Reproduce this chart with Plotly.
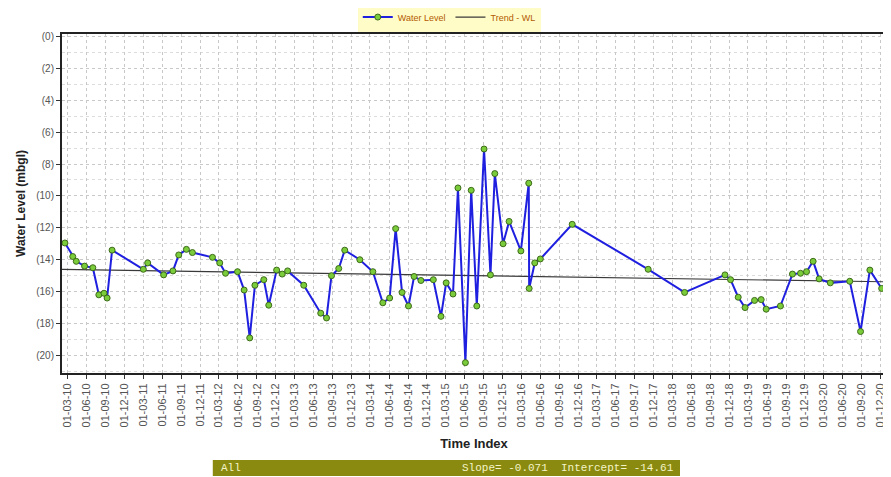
import plotly.graph_objects as go
from datetime import date

# ---- data (water level, metres below ground, negative) ----
dates = [
    "2010-02-16", "2010-03-26", "2010-04-12", "2010-05-22", "2010-07-01", "2010-07-30",
    "2010-08-24", "2010-09-08", "2010-10-02", "2011-03-02", "2011-03-23", "2011-06-08",
    "2011-07-23", "2011-08-20", "2011-09-26", "2011-10-25", "2012-01-30", "2012-03-05",
    "2012-04-02", "2012-05-30", "2012-07-01", "2012-07-28", "2012-08-22", "2012-10-04",
    "2012-10-28", "2012-12-05", "2013-01-01", "2013-01-27", "2013-04-15", "2013-07-06",
    "2013-08-03", "2013-08-27", "2013-10-01", "2013-10-30", "2014-01-11", "2014-03-15",
    "2014-05-02", "2014-06-04", "2014-07-03", "2014-08-03", "2014-09-03", "2014-09-30",
    "2014-11-02", "2015-01-01", "2015-02-07", "2015-03-04", "2015-04-06", "2015-04-30",
    "2015-06-05", "2015-07-03", "2015-07-30", "2015-09-03", "2015-10-04", "2015-10-25",
    "2015-12-04", "2016-01-02", "2016-02-28", "2016-04-06", "2016-04-08", "2016-05-05",
    "2016-06-01", "2016-11-02", "2017-11-04", "2018-04-29", "2018-11-10", "2018-12-07",
    "2019-01-13", "2019-02-15", "2019-04-02", "2019-05-04", "2019-05-28", "2019-08-05",
    "2019-10-02", "2019-11-10", "2019-12-09", "2020-01-10", "2020-02-08", "2020-04-02",
    "2020-07-05", "2020-08-26", "2020-10-10", "2020-12-06",
]
levels = [
    -12.95, -13.8, -14.1, -14.4, -14.5, -16.2,
    -16.1, -16.4, -13.4, -14.6, -14.2, -14.95,
    -14.7, -13.7, -13.35, -13.55, -13.85, -14.2,
    -14.85, -14.75, -15.9, -18.9, -15.6, -15.25,
    -16.85, -14.65, -14.9, -14.7, -15.6, -17.35,
    -17.65, -15.0, -14.55, -13.4, -14.0, -14.75,
    -16.7, -16.4, -12.05, -16.05, -16.9, -15.05,
    -15.3, -15.25, -17.55, -15.45, -16.15, -9.5,
    -20.45, -9.65, -16.9, -7.06, -14.95, -8.6,
    -13.0, -11.6, -13.45, -9.2, -15.8, -14.2,
    -13.95, -11.78, -14.6, -16.05, -14.95, -15.25,
    -16.35, -17.0, -16.55, -16.5, -17.1, -16.9,
    -14.9, -14.85, -14.75, -14.1, -15.2, -15.45,
    -15.35, -18.5, -14.65, -15.8,
]

slope = -0.071        # per year
intercept = -14.61

y_tick_vals = [0, -2, -4, -6, -8, -10, -12, -14, -16, -18, -20]
y_tick_text = ["(0)", "(2)", "(4)", "(6)", "(8)", "(10)", "(12)", "(14)", "(16)", "(18)", "(20)"]

x_start = "2010-02-02"
x_end = "2020-12-27"

tick_dates = [f"{y}-{m:02d}-01" for y in range(2010, 2021) for m in (3, 6, 9, 12)]
tick_text = [f"01-{m:02d}-{str(y)[2:]}" for y in range(2010, 2021) for m in (3, 6, 9, 12)]

# trend line from slope / intercept across the axis span
d0 = date.fromisoformat(x_start)
d1 = date.fromisoformat(x_end)
trend_x = [x_start, x_end]
trend_y = [intercept, intercept + slope * (d1 - d0).days / 365.25]

fig = go.Figure()
fig.add_trace(go.Scatter(
    x=trend_x, y=trend_y, mode="lines", name="Trend - WL",
    line=dict(color="#3a3a3a", width=1.2),
))
fig.add_trace(go.Scatter(
    x=dates, y=levels, mode="lines+markers", name="Water Level",
    line=dict(color="#1f1fe0", width=2),
    marker=dict(symbol="circle", size=6, color="#7acc3a", line=dict(color="#3d6b1a", width=1)),
))

fig.update_layout(
    width=883, height=469,
    margin=dict(l=54, r=5, t=26, b=104, autoexpand=False),
    paper_bgcolor="white", plot_bgcolor="white",
    font=dict(family="Liberation Sans, Arial, sans-serif", size=10, color="#444"),
    showlegend=True,
    legend=dict(
        orientation="h", x=0.47, xanchor="center", y=1.05, yanchor="middle",
        bgcolor="#fffcc8", font=dict(size=9, color="#b35a00"),
        itemwidth=30, traceorder="reversed",
        tracegroupgap=0,
    ),
)

fig.update_xaxes(
    type="date", range=[x_start, x_end], automargin=False,
    tickmode="array", tickvals=tick_dates, ticktext=tick_text,
    tickangle=-90, tickfont=dict(size=11, color="#555"),
    ticks="outside", ticklen=4, tickcolor="#333",
    showgrid=True, gridcolor="#c8c8c8", griddash="dot", gridwidth=1,
    showline=True, linecolor="#222", linewidth=2, mirror=True,
    zeroline=False,
    title=dict(text="<b>Time Index</b>", font=dict(size=13, color="#222"), standoff=12),
)
fig.update_yaxes(
    range=[-21.1, 0.15], automargin=False,
    tickmode="array", tickvals=y_tick_vals, ticktext=y_tick_text,
    tickfont=dict(size=10, color="#555"),
    ticks="outside", ticklen=4, tickcolor="#333",
    showgrid=True, gridcolor="#c8c8c8", griddash="dot", gridwidth=1,
    minor=dict(dtick=1, showgrid=True, gridcolor="#dcdcdc", griddash="dot"),
    showline=True, linecolor="#222", linewidth=2, mirror=True,
    zeroline=False,
    title=dict(text="<b>Water Level (mbgl)</b>", font=dict(size=12, color="#222"), standoff=8),
)

# statistics box below the axis title
fig.add_shape(type="rect", xref="paper", yref="paper",
              x0=0.183, x1=0.75, y0=-0.304, y1=-0.257,
              fillcolor="#8a8a10", line=dict(width=0), layer="above")
fig.add_annotation(xref="paper", yref="paper", x=0.19, y=-0.2805, xanchor="left", yanchor="middle",
                   text="All", showarrow=False,
                   font=dict(family="Liberation Mono, DejaVu Sans Mono, monospace", size=11, color="#f4f4c8"))
fig.add_annotation(xref="paper", yref="paper", x=0.745, y=-0.2805, xanchor="right", yanchor="middle",
                   text="Slope=\u00a0-0.071\u00a0\u00a0Intercept=\u00a0-14.61", showarrow=False,
                   font=dict(family="Liberation Mono, DejaVu Sans Mono, monospace", size=11, color="#f4f4c8"))

fig.write_html("out.html")
